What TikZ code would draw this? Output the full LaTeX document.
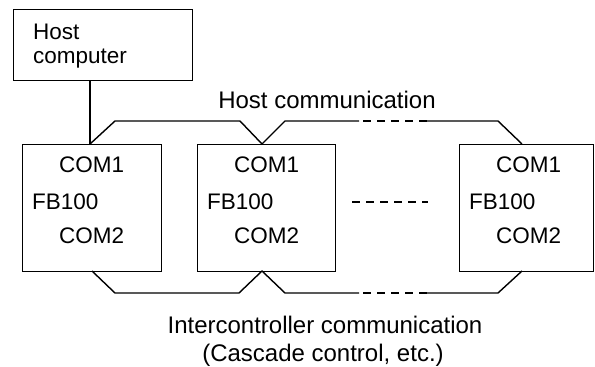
\documentclass[tikz,border=0pt]{standalone}
\usepackage{fontspec}
\setmainfont{Liberation Sans}
\begin{document}
\begin{tikzpicture}[x=1pt,y=-1pt,
  box/.style={draw, line width=1.4pt, inner sep=0pt, anchor=north west},
  bus/.style={line width=1.4pt, line join=miter},
  dbus/.style={line width=1.4pt, dash pattern=on 8pt off 6pt},
  lbl/.style={inner sep=0pt, anchor=base west, font=\fontsize{22.5}{27}\selectfont},
  clbl/.style={inner sep=0pt, anchor=base, font=\fontsize{24}{28}\selectfont}]
\useasboundingbox (0,0) rectangle (595,367);
% boxes
\node[box, minimum width=179pt, minimum height=71pt] (host) at (13,9) {};
\node[box, minimum width=139pt, minimum height=127pt] (b1) at (22,144) {};
\node[box, minimum width=138pt, minimum height=127pt] (b2) at (197,144) {};
\node[box, minimum width=134pt, minimum height=127pt] (b3) at (459,144) {};
% host text
\node[lbl] (t1) at (33,39) {Host};
\node[lbl] (t2) at (33,63) {computer};
% box texts
\foreach \b/\x in {b1/22, b2/197, b3/459}{
  \node[lbl] (\b c1) at (\x+37,172) {COM1};
  \node[lbl] (\b f) at (\x+10,209) {FB100};
  \node[lbl] (\b c2) at (\x+37,243) {COM2};
}
% labels
\node[clbl] (hc) at (327,108) {Host communication};
\node[clbl] (ic) at (325,333) {Intercontroller communication};
\node[clbl] (cc) at (323,361) {(Cascade control, etc.)};
% coordinates
\coordinate (p1) at (90,144);
\coordinate (p2) at (262,144);
\coordinate (p3) at (522,144);
\coordinate (q1) at (92,271);
\coordinate (q2) at (262,271);
\coordinate (q3) at (522,271);
% host link
\draw[bus] (host.south -| p1) -- (p1);
% top bus
\draw[bus] (p1) -- (115,121) -- (240,121) -- (p2) -- (285,121) -- (359,121);
\draw[dbus] (363,121) -- (427,121);
\draw[bus] (427,121) -- (498,121) -- (p3);
% bottom bus
\draw[bus] (q1) -- (115,293) -- (239,293) -- (q2) -- (285,293) -- (359,293);
\draw[dbus] (363,293) -- (427,293);
\draw[bus] (427,293) -- (498,293) -- (q3);
% middle dashes
\coordinate (m1) at (352,202);
\coordinate (m2) at (428,202);
\draw[dbus] (m1) -- (m2);
\end{tikzpicture}
\end{document}
